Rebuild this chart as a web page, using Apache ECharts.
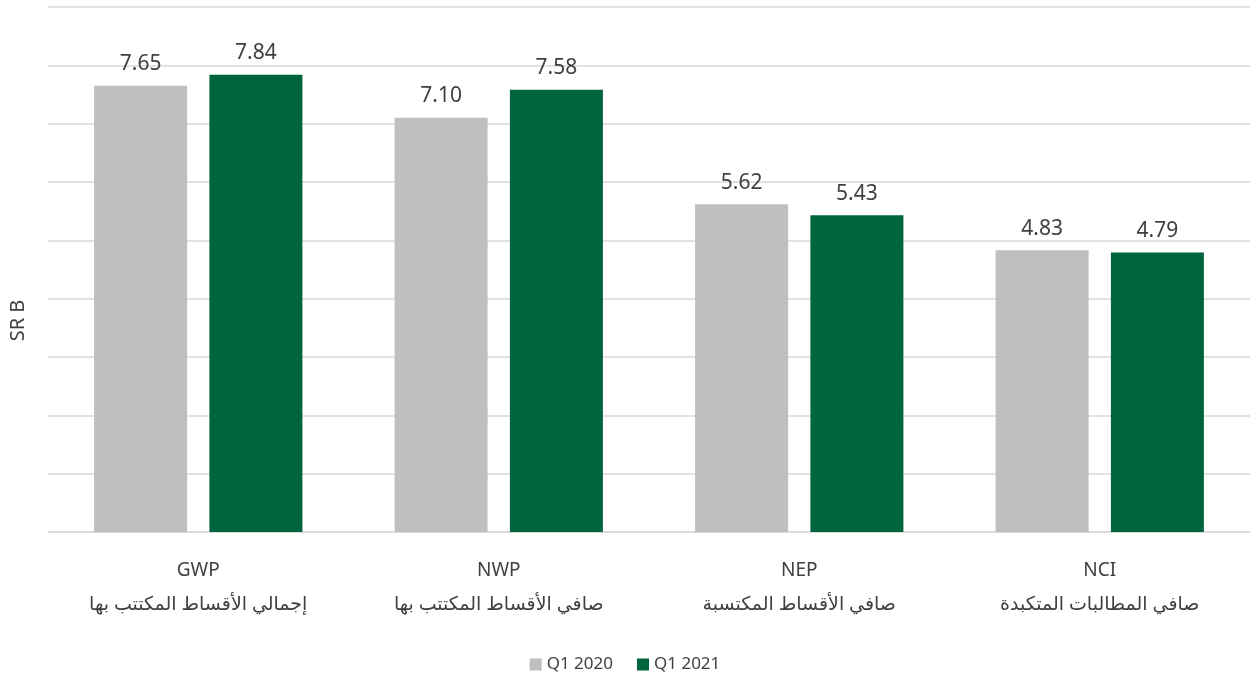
<!DOCTYPE html>
<html><head><meta charset="utf-8">
<script src="https://cdn.jsdelivr.net/npm/echarts@6/dist/echarts.min.js"></script>
<style>html,body{margin:0;padding:0;background:#fff}#c{width:1250px;height:680px}</style>
</head><body><div id="c"></div>
<script>
const categories = ['GWP\nإجمالي الأقساط المكتتب بها', 'NWP\nصافي الأقساط المكتتب بها', 'NEP\nصافي الأقساط المكتسبة', 'NCI\nصافي المطالبات المتكبدة'];
const seriesNames = ['Q1 2020', 'Q1 2021'];
const q1_2020 = [7.65, 7.10, 5.62, 4.83];
const q1_2021 = [7.84, 7.58, 5.43, 4.79];
const axisTitle = 'SR B';

const font = '"Noto Sans", "DejaVu Sans", sans-serif';
const chart = echarts.init(document.getElementById('c'));
const labelCfg = {show: true, position: 'top', distance: 11, color: '#404040', fontSize: 21, fontFamily: font, formatter: p => p.value.toFixed(2)};
chart.setOption({
  animation: false,
  textStyle: {fontFamily: font},
  grid: {left: 48, right: 0, top: 7, bottom: 148, containLabel: false, outerBoundsMode: 'none'},
  legend: {bottom: 2, left: 'center', itemWidth: 12, itemHeight: 12, itemGap: 24, icon: 'rect',
    textStyle: {color: '#404040', fontSize: 17, fontFamily: font}, data: seriesNames},
  xAxis: {type: 'category', data: categories,
    axisLine: {lineStyle: {color: '#d9d9d9', width: 1.5}}, axisTick: {show: false},
    axisLabel: {color: '#404040', fontSize: 19, lineHeight: 34, margin: 22, fontFamily: font}},
  yAxis: {type: 'value', min: 0, max: 9, interval: 1,
    name: axisTitle, nameLocation: 'middle', nameGap: 20, nameRotate: 90,
    nameTextStyle: {color: '#404040', fontSize: 20, fontFamily: font, padding: [0, 102, 0, 0]},
    axisLabel: {show: false}, axisLine: {show: false}, axisTick: {show: false},
    splitLine: {lineStyle: {color: '#d9d9d9', width: 1.5}}},
  series: [
    {name: seriesNames[0], type: 'bar', data: q1_2020, barWidth: 93, barGap: '24%', barCategoryGap: '30%',
      itemStyle: {color: '#bfbfbf'}, label: labelCfg},
    {name: seriesNames[1], type: 'bar', data: q1_2021, barWidth: 93,
      itemStyle: {color: '#00643c'}, label: labelCfg}
  ]
});
</script></body></html>
